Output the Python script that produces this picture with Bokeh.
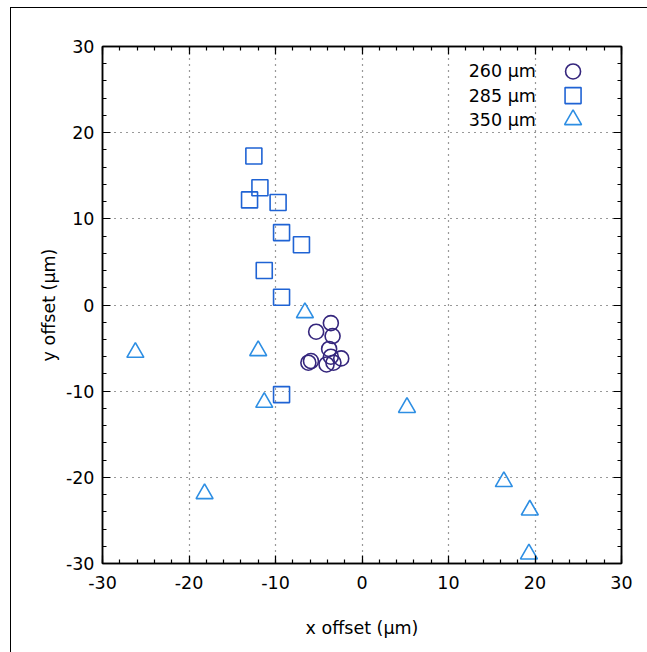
from bokeh.plotting import figure
from bokeh.embed import file_html
from bokeh.resources import INLINE
from bokeh.models import LinearAxis, SingleIntervalTicker, Range1d, Label, CustomJSTickFormatter

# 260 µm (circles)
x260 = [-3.6, -5.3, -3.4, -3.8, -3.6, -2.4, -3.3, -4.1, -5.9, -6.2]
y260 = [-2.1, -3.1, -3.6, -5.1, -6.0, -6.2, -6.7, -6.9, -6.5, -6.7]
# 285 µm (squares)
x285 = [-12.5, -11.8, -13.0, -9.7, -9.3, -7.0, -11.3, -9.3, -9.3]
y285 = [17.3, 13.6, 12.2, 11.9, 8.4, 7.0, 4.0, 0.9, -10.4]
# 350 µm (triangles)
x350 = [-26.2, -12.0, -6.6, -11.3, -18.2, 5.2, 16.4, 19.4, 19.3]
y350 = [-5.5, -5.3, -0.9, -11.3, -21.9, -11.9, -20.5, -23.8, -28.9]

series_labels = ["260 μm", "285 μm", "350 μm"]
colors = ["#35267d", "#1f63d4", "#2d8ee3"]

FONT = "DejaVu Sans"

p = figure(width=637, height=645, output_backend="svg", toolbar_location=None,
           x_range=Range1d(-30, 30), y_range=Range1d(-30, 30),
           min_border_left=91, min_border_right=27, min_border_top=38, min_border_bottom=90,
           x_axis_label="x offset (μm)", y_axis_label="y offset (μm)")
p.styles = {"border-top": "1px solid black", "border-left": "1px solid black",
            "margin-left": "10px", "margin-top": "7px"}
p.background_fill_color = "white"
p.border_fill_color = "white"
p.outline_line_color = "black"
p.outline_line_width = 1.5

tick = SingleIntervalTicker(interval=10, num_minor_ticks=5)
hyphen = CustomJSTickFormatter(code="return tick.toFixed(0)")
for ax in [p.xaxis[0], p.yaxis[0]]:
    ax.ticker = tick
    ax.formatter = hyphen
    ax.major_tick_in = 8
    ax.major_tick_out = 0
    ax.minor_tick_in = 4
    ax.minor_tick_out = 0
    ax.axis_line_width = 1.5
    ax.major_tick_line_width = 1.2
    ax.minor_tick_line_width = 1.2
    ax.major_label_text_font = FONT
    ax.major_label_text_font_size = "17.5px"
    ax.major_label_text_color = "black"
    ax.axis_label_text_font = FONT
    ax.axis_label_text_font_size = "17.5px"
    ax.axis_label_text_font_style = "normal"
    ax.axis_label_text_color = "black"
p.xaxis[0].major_label_standoff = 12
p.xaxis[0].axis_label_standoff = 26
p.yaxis[0].major_label_standoff = 8
p.yaxis[0].axis_label_standoff = 4

blank = CustomJSTickFormatter(code="return ''")
for side in ["above", "right"]:
    ax = LinearAxis(ticker=tick, major_tick_in=8, major_tick_out=0, minor_tick_in=4, minor_tick_out=0,
                    axis_line_width=1.5, major_tick_line_width=1.2, minor_tick_line_width=1.2,
                    formatter=blank, major_label_standoff=0)
    p.add_layout(ax, side)

for g in [p.xgrid[0], p.ygrid[0]]:
    g.ticker = tick
    g.grid_line_color = "black"
    g.grid_line_alpha = 0.8
    g.grid_line_dash = "1 5"
    g.grid_line_width = 1.2

p.scatter(x285, y285, marker="square", size=16, fill_color=None, line_color=colors[1], line_width=1.6)
p.scatter(x350, y350, marker="triangle", size=17, fill_color=None, line_color=colors[2], line_width=1.6)
p.scatter(x260, y260, marker="circle", size=15, fill_color=None, line_color=colors[0], line_width=1.6)

# legend (text, then marker on the right)
leg_y = [27.1, 24.3, 21.5]
leg_markers = ["circle", "square", "triangle"]
leg_sizes = [15, 16, 17]
for i in range(3):
    p.scatter([24.4], [leg_y[i]], marker=leg_markers[i], size=leg_sizes[i], fill_color=None,
              line_color=colors[i], line_width=1.6)
    p.add_layout(Label(x=20.1, y=leg_y[i], text=series_labels[i], text_align="right",
                       text_baseline="middle", text_font=FONT, text_font_size="17.5px",
                       text_color="black"))

open("out.html", "w").write(file_html(p, INLINE))
